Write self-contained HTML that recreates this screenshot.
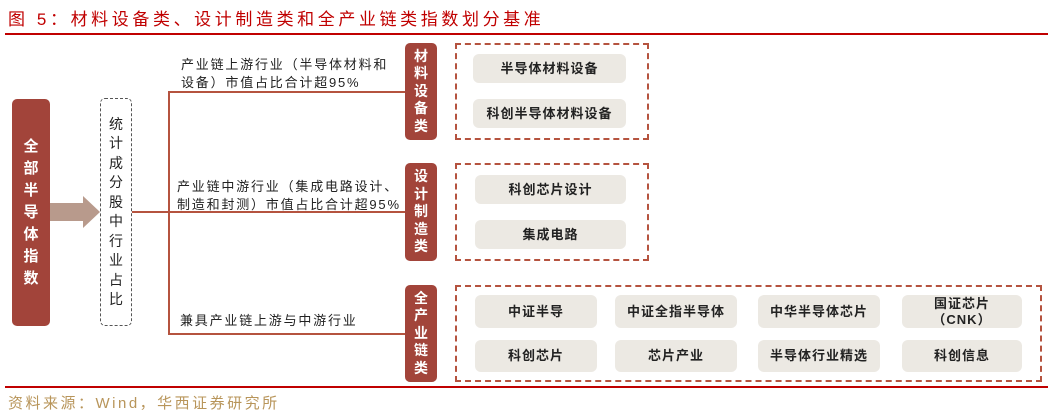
<!DOCTYPE html>
<html><head><meta charset="utf-8"><style>
body{margin:0;width:1053px;height:415px;background:#fff;position:relative;overflow:hidden;font-family:"Liberation Sans","Noto Sans CJK SC",sans-serif}
.a{position:absolute;box-sizing:border-box}
.t{color:#c00000;font-size:17px;left:8px;top:5px;letter-spacing:3.6px}
.cat{background:#a2443a;border-radius:5px;color:#fff;font-size:14px;font-weight:bold;width:32px;display:flex;flex-direction:column;align-items:center;justify-content:center;line-height:17.5px}
.dash{border:2px dashed #b5533f}
.pill{background:#ece9e3;border-radius:6px;font-size:13px;font-weight:bold;color:#222;display:flex;align-items:center;justify-content:center;text-align:center;line-height:16px;letter-spacing:1px}
.ln{background:#b5533f}
.lbl{font-size:13px;color:#222;line-height:18px;letter-spacing:1.8px}
</style></head><body>
<div class="a t">图 5：材料设备类、设计制造类和全产业链类指数划分基准</div>
<div class="a" style="left:5px;top:33px;width:1043px;height:2px;background:#c00000"></div>
<div class="a" style="left:5px;top:386px;width:1043px;height:2px;background:#c00000"></div>
<div class="a" style="left:8px;top:392px;font-size:15px;color:#b8955a;letter-spacing:2.5px">资料来源：Wind，华西证券研究所</div>

<div class="a cat" style="left:12px;top:99px;width:38px;height:227px;font-size:15px;line-height:22px">全<br>部<br>半<br>导<br>体<br>指<br>数</div>
<svg class="a" style="left:50px;top:194px" width="52" height="36"><polygon points="0,9 33,9 33,2 50,18 33,34 33,27 0,27" fill="#b89a8c"/></svg>
<div class="a" style="left:100px;top:98px;width:32px;height:228px;border:1.5px dashed #555;border-radius:5px;display:flex;align-items:center;justify-content:center;font-size:14px;line-height:19.5px;text-align:center;color:#222">统<br>计<br>成<br>分<br>股<br>中<br>行<br>业<br>占<br>比</div>

<div class="a ln" style="left:132px;top:211px;width:273px;height:1.5px"></div>
<div class="a ln" style="left:168px;top:91px;width:1.5px;height:243px"></div>
<div class="a ln" style="left:168px;top:91px;width:237px;height:1.5px"></div>
<div class="a ln" style="left:168px;top:333px;width:237px;height:1.5px"></div>

<div class="a lbl" style="left:181px;top:56px">产业链上游行业（半导体材料和<br>设备）市值占比合计超95%</div>
<div class="a lbl" style="left:177px;top:178px">产业链中游行业（集成电路设计、<br>制造和封测）市值占比合计超95%</div>
<div class="a lbl" style="left:180px;top:312px">兼具产业链上游与中游行业</div>

<div class="a cat" style="left:405px;top:43px;height:97px">材<br>料<br>设<br>备<br>类</div>
<div class="a cat" style="left:405px;top:163px;height:98px">设<br>计<br>制<br>造<br>类</div>
<div class="a cat" style="left:405px;top:285px;height:97px">全<br>产<br>业<br>链<br>类</div>

<div class="a dash" style="left:455px;top:43px;width:194px;height:97px"></div>
<div class="a dash" style="left:455px;top:163px;width:194px;height:98px"></div>
<div class="a dash" style="left:455px;top:285px;width:587px;height:97px"></div>

<div class="a pill" style="left:473px;top:54px;width:153px;height:29px">半导体材料设备</div>
<div class="a pill" style="left:473px;top:99px;width:153px;height:29px">科创半导体材料设备</div>
<div class="a pill" style="left:475px;top:175px;width:151px;height:29px">科创芯片设计</div>
<div class="a pill" style="left:475px;top:220px;width:151px;height:29px">集成电路</div>

<div class="a pill" style="left:475px;top:295px;width:122px;height:33px">中证半导</div>
<div class="a pill" style="left:615px;top:295px;width:122px;height:33px">中证全指半导体</div>
<div class="a pill" style="left:758px;top:295px;width:122px;height:33px">中华半导体芯片</div>
<div class="a pill" style="left:902px;top:295px;width:120px;height:33px">国证芯片<br>（CNK）</div>
<div class="a pill" style="left:475px;top:340px;width:122px;height:32px">科创芯片</div>
<div class="a pill" style="left:615px;top:340px;width:122px;height:32px">芯片产业</div>
<div class="a pill" style="left:758px;top:340px;width:122px;height:32px">半导体行业精选</div>
<div class="a pill" style="left:902px;top:340px;width:120px;height:32px">科创信息</div>
</body></html>
